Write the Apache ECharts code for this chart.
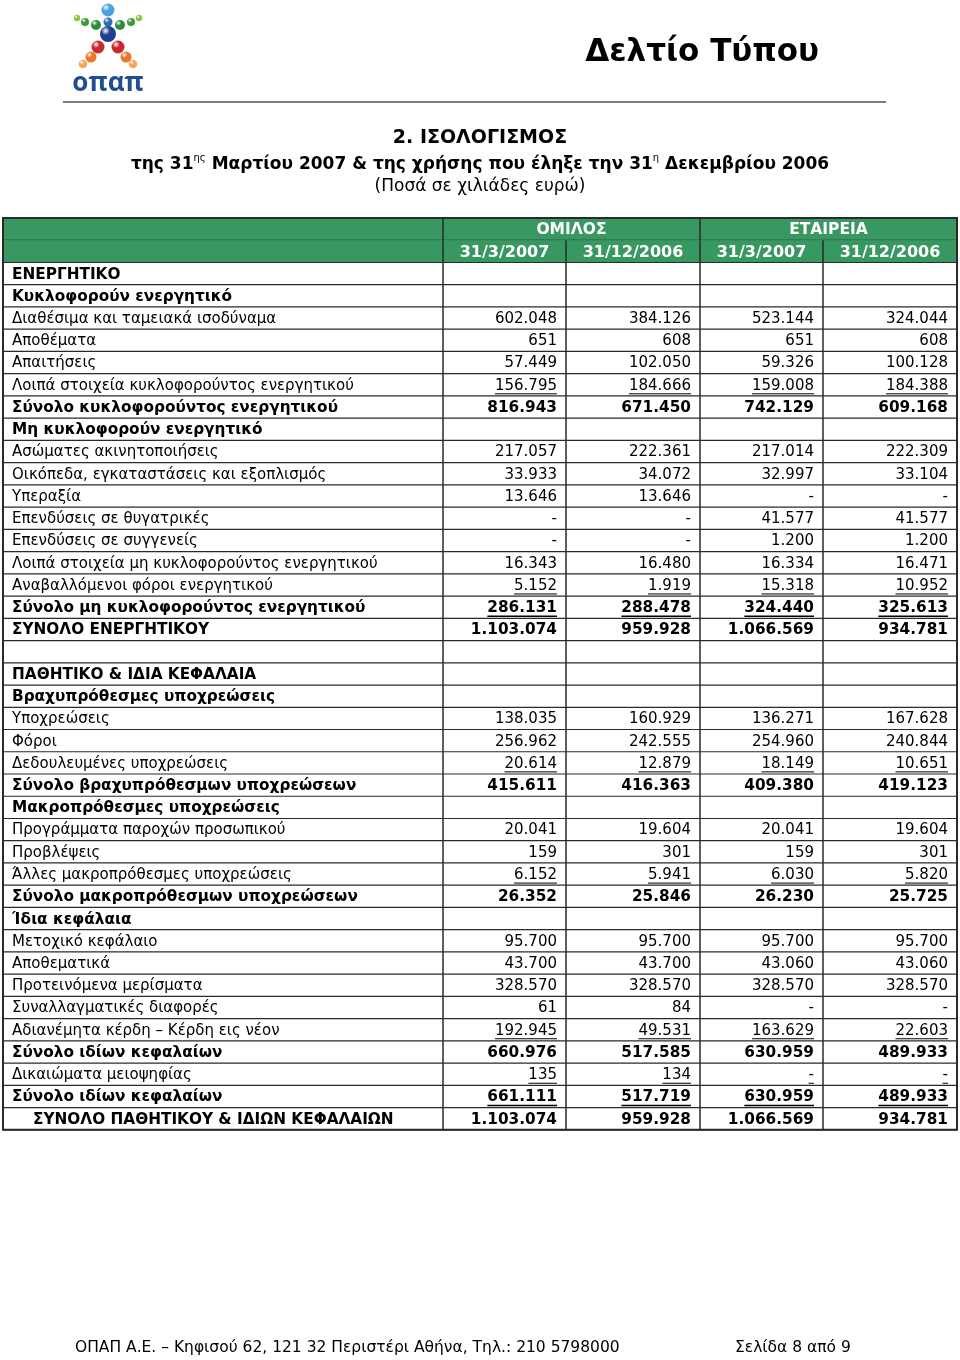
<!DOCTYPE html>
<html>
<head>
<meta charset="utf-8">
<script src="https://cdn.jsdelivr.net/npm/echarts@6/dist/echarts.min.js"></script>
<style>
html,body{margin:0;padding:0;background:#fff;}
#chart{width:960px;height:1360px;}
</style>
</head>
<body>
<div id="chart"></div>
<script>
// ---------- data ----------
const headerGroups = ['ΟΜΙΛΟΣ', 'ΕΤΑΙΡΕΙΑ'];
const headerDates = ['31/3/2007', '31/12/2006', '31/3/2007', '31/12/2006'];

const rowLabels = [
  'ΕΝΕΡΓΗΤΙΚΟ',
  'Κυκλοφορούν ενεργητικό',
  'Διαθέσιμα και ταμειακά ισοδύναμα',
  'Αποθέματα',
  'Απαιτήσεις',
  'Λοιπά στοιχεία κυκλοφορούντος ενεργητικού',
  'Σύνολο κυκλοφορούντος ενεργητικού',
  'Μη κυκλοφορούν ενεργητικό',
  'Ασώματες ακινητοποιήσεις',
  'Οικόπεδα, εγκαταστάσεις και εξοπλισμός',
  'Υπεραξία',
  'Επενδύσεις σε θυγατρικές',
  'Επενδύσεις σε συγγενείς',
  'Λοιπά στοιχεία μη κυκλοφορούντος ενεργητικού',
  'Αναβαλλόμενοι φόροι ενεργητικού',
  'Σύνολο μη κυκλοφορούντος ενεργητικού',
  'ΣΥΝΟΛΟ ΕΝΕΡΓΗΤΙΚΟΥ',
  '',
  'ΠΑΘΗΤΙΚΟ & ΙΔΙΑ ΚΕΦΑΛΑΙΑ',
  'Βραχυπρόθεσμες υποχρεώσεις',
  'Υποχρεώσεις',
  'Φόροι',
  'Δεδουλευμένες υποχρεώσεις',
  'Σύνολο βραχυπρόθεσμων υποχρεώσεων',
  'Μακροπρόθεσμες υποχρεώσεις',
  'Προγράμματα παροχών προσωπικού',
  'Προβλέψεις',
  'Άλλες μακροπρόθεσμες υποχρεώσεις',
  'Σύνολο μακροπρόθεσμων υποχρεώσεων',
  'Ίδια κεφάλαια',
  'Μετοχικό κεφάλαιο',
  'Αποθεματικά',
  'Προτεινόμενα μερίσματα',
  'Συναλλαγματικές διαφορές',
  'Αδιανέμητα κέρδη – Κέρδη εις νέον',
  'Σύνολο ιδίων κεφαλαίων',
  'Δικαιώματα μειοψηφίας',
  'Σύνολο ιδίων κεφαλαίων',
  'ΣΥΝΟΛΟ ΠΑΘΗΤΙΚΟΥ & ΙΔΙΩΝ ΚΕΦΑΛΑΙΩΝ'
];

// null = empty cell, '-' = dash
const groupMar2007 = [null, null, 602048, 651, 57449, 156795, 816943, null, 217057, 33933, 13646, '-', '-', 16343, 5152, 286131, 1103074, null, null, null, 138035, 256962, 20614, 415611, null, 20041, 159, 6152, 26352, null, 95700, 43700, 328570, 61, 192945, 660976, 135, 661111, 1103074];
const groupDec2006 = [null, null, 384126, 608, 102050, 184666, 671450, null, 222361, 34072, 13646, '-', '-', 16480, 1919, 288478, 959928, null, null, null, 160929, 242555, 12879, 416363, null, 19604, 301, 5941, 25846, null, 95700, 43700, 328570, 84, 49531, 517585, 134, 517719, 959928];
const companyMar2007 = [null, null, 523144, 651, 59326, 159008, 742129, null, 217014, 32997, '-', 41577, 1200, 16334, 15318, 324440, 1066569, null, null, null, 136271, 254960, 18149, 409380, null, 20041, 159, 6030, 26230, null, 95700, 43060, 328570, '-', 163629, 630959, '-', 630959, 1066569];
const companyDec2006 = [null, null, 324044, 608, 100128, 184388, 609168, null, 222309, 33104, '-', 41577, 1200, 16471, 10952, 325613, 934781, null, null, null, 167628, 240844, 10651, 419123, null, 19604, 301, 5820, 25725, null, 95700, 43060, 328570, '-', 22603, 489933, '-', 489933, 934781];

// row style flags (indices into rowLabels)
const boldRows = [0, 1, 6, 7, 15, 16, 18, 19, 23, 24, 28, 29, 35, 37, 38];
const underlineRows = [5, 14, 15, 22, 27, 34, 36, 37];
const indentRows = [38];

// ---------- layout ----------
const GRID_LEFT = 3, GRID_TOP = 218, TABLE_W = 954, ROW_H = 22.24;
const HEADER_ROWS = 2;
const colEdges = [0, 440, 563, 697, 820, 954];
const GREEN = '#389862';
const LINE = '#2a2a2a';
const FONT = '"DejaVu Sans", Verdana, sans-serif';

const valueCols = [groupMar2007, groupDec2006, companyMar2007, companyDec2006];
const totalRows = HEADER_ROWS + rowLabels.length;
const rowIds = Array.from({length: totalRows}, (_, i) => String(i));

function fmt(v) {
  if (v === null || v === undefined) return '';
  if (typeof v === 'string') return v;
  return String(v).replace(/\B(?=(\d{3})+(?!\d))/g, '.');
}

const measureCtx = document.createElement('canvas').getContext('2d');
function textWidth(text, font) {
  measureCtx.font = font;
  return measureCtx.measureText(text).width;
}

function txt(text, x, y, opts) {
  const size = opts.size || 15;
  const weight = opts.weight || 'normal';
  const align = opts.align || 'left';
  return {
    type: 'text',
    silent: true,
    style: {
      text: text, x: x, y: y,
      fill: opts.color || '#000',
      font: weight + ' ' + size + 'px ' + FONT,
      fontSize: size, fontWeight: weight, fontFamily: FONT,
      textAlign: align, align: align,
      textVerticalAlign: 'middle', verticalAlign: 'middle'
    }
  };
}
function line(x1, y1, x2, y2, w, c) {
  return {type: 'line', silent: true, shape: {x1, y1, x2, y2}, style: {stroke: c || LINE, lineWidth: w || 1}};
}

function renderItem(params, api) {
  const r = api.value(0);
  const center = api.coord([0, r]);
  const h = api.size([0, 1])[1];
  const top = center[1] - h / 2, bot = center[1] + h / 2, cy = center[1];
  const X = v => api.coord([v, r])[0];
  const children = [];
  if (r < HEADER_ROWS) {
    children.push({type: 'rect', silent: true, shape: {x: X(0), y: top, width: X(colEdges[5]) - X(0), height: h}, style: {fill: GREEN}});
    if (r === 0) {
      for (let g = 0; g < 2; g++) {
        const a = X(colEdges[1 + g * 2]), b = X(colEdges[3 + g * 2]);
        children.push(txt(headerGroups[g], (a + b) / 2, cy + 1, {weight: 'bold', size: 15.5, color: '#fff', align: 'center'}));
      }
      [1, 3].forEach(k => children.push(line(X(colEdges[k]), top, X(colEdges[k]), bot, 1.5)));
    } else {
      for (let c = 0; c < 4; c++) {
        const a = X(colEdges[c + 1]), b = X(colEdges[c + 2]);
        children.push(txt(headerDates[c], (a + b) / 2, cy + 1, {weight: 'bold', size: 16, color: '#fff', align: 'center'}));
      }
      [1, 2, 3, 4].forEach(k => children.push(line(X(colEdges[k]), top, X(colEdges[k]), bot, 1.5)));
    }
    children.push(line(X(0), bot, X(colEdges[5]), bot, 1));
  } else {
    const i = r - HEADER_ROWS;
    const bold = boldRows.indexOf(i) >= 0;
    const under = underlineRows.indexOf(i) >= 0;
    const indent = indentRows.indexOf(i) >= 0;
    const weight = bold ? 'bold' : 'normal';
    const size = bold ? 15.3 : 15;
    if (rowLabels[i]) {
      children.push(txt(rowLabels[i], X(indent ? 30 : 9), cy + 1, {weight, size}));
    }
    for (let c = 0; c < 4; c++) {
      const s = fmt(valueCols[c][i]);
      if (!s) continue;
      const right = X(colEdges[c + 2]) - 9;
      children.push(txt(s, right, cy + 1, {weight, size, align: 'right'}));
      if (under) {
        const w = textWidth(s, weight + ' ' + size + 'px ' + FONT);
        children.push(line(right - w, cy + 9, right, cy + 9, bold ? 1.6 : 1, '#000'));
      }
    }
    [1, 2, 3, 4].forEach(k => children.push(line(X(colEdges[k]), top, X(colEdges[k]), bot, 1.5)));
    children.push(line(X(0), bot, X(colEdges[5]), bot, 1.2));
  }
  return {type: 'group', children};
}

// ---------- logo & page decoration ----------
const logoDots = [
  [108, 10, 6.5, '#4aa3df'], [108, 22, 4.5, '#2f6fb8'], [108, 34, 8, '#1d3f8f'],
  [96, 25, 5, '#2e8b3e'], [85, 22, 4, '#3f9a3a'], [77, 18, 3.2, '#8cc63f'],
  [120, 25, 5, '#2e8b3e'], [131, 22, 4, '#3f9a3a'], [139, 18, 3.2, '#8cc63f'],
  [98, 47, 6.5, '#c8282e'], [118, 47, 6.5, '#c8282e'],
  [91, 57, 5.5, '#e8782a'], [126, 57, 5.5, '#e8782a'],
  [83, 64, 4.3, '#f4a65a'], [133, 64, 4.3, '#f4a65a']
];
const graphics = logoDots.map(d => ({
  type: 'circle', shape: {cx: d[0], cy: d[1], r: d[2]},
  style: {fill: new echarts.graphic.RadialGradient(0.35, 0.3, 0.8, [{offset: 0, color: '#ffffff'}, {offset: 0.35, color: d[3]}, {offset: 1, color: d[3]}])}
}));
graphics.push({type: 'text', style: {text: 'οπαπ', x: 108, y: 84, fill: '#1f4f91', font: 'bold 26px "Open Sans", "DejaVu Sans", sans-serif', textAlign: 'center', align: 'center', textVerticalAlign: 'middle', verticalAlign: 'middle'}});
graphics.push({type: 'line', shape: {x1: 63, y1: 102, x2: 886, y2: 102}, style: {stroke: '#555', lineWidth: 1.5}});
graphics.push({type: 'text', style: {text: 'Δελτίο Τύπου', x: 819, y: 53, fill: '#000', font: 'bold 31px "DejaVu Sans", sans-serif', textAlign: 'right', align: 'right', textVerticalAlign: 'middle', verticalAlign: 'middle'}});
graphics.push({type: 'text', style: {text: 'ΟΠΑΠ Α.Ε. – Κηφισού 62, 121 32 Περιστέρι Αθήνα, Τηλ.: 210 5798000', x: 75, y: 1348, fill: '#000', font: '15.5px "DejaVu Sans", sans-serif', textVerticalAlign: 'middle', verticalAlign: 'middle'}});
graphics.push({type: 'text', style: {text: 'Σελίδα 8 από 9', x: 735, y: 1348, fill: '#000', font: '15.5px "DejaVu Sans", sans-serif', textVerticalAlign: 'middle', verticalAlign: 'middle'}});
// outer border of table
graphics.push({type: 'rect', shape: {x: GRID_LEFT, y: GRID_TOP, width: TABLE_W, height: ROW_H * totalRows}, style: {fill: 'none', stroke: LINE, lineWidth: 2}, z: 100});

const chart = echarts.init(document.getElementById('chart'), null, {renderer: 'canvas'});
chart.setOption({
  animation: false,
  title: [
    {text: '2. ΙΣΟΛΟΓΙΣΜΟΣ', left: 'center', top: 124, textStyle: {fontFamily: FONT, fontWeight: 'bold', fontSize: 19, color: '#000'}},
    {text: '{b|της 31}{s|ης}{b| Μαρτίου 2007 & της χρήσης που έληξε την 31}{s|η}{b| Δεκεμβρίου 2006}', left: 'center', top: 148,
      textStyle: {rich: {
        b: {fontFamily: FONT, fontWeight: 'bold', fontSize: 17, color: '#000', lineHeight: 24},
        s: {fontFamily: FONT, fontWeight: 'normal', fontSize: 10, color: '#000', verticalAlign: 'top', lineHeight: 24, padding: [0, 0, 10, 0]}
      }}},
    {text: '(Ποσά σε χιλιάδες ευρώ)', left: 'center', top: 173, textStyle: {fontFamily: FONT, fontWeight: 'normal', fontSize: 17, color: '#000'}}
  ],
  grid: {left: GRID_LEFT, top: GRID_TOP, width: TABLE_W, height: ROW_H * totalRows, containLabel: false},
  xAxis: {type: 'value', min: 0, max: TABLE_W, show: false},
  yAxis: {type: 'category', data: rowIds, inverse: true, show: false},
  graphic: graphics,
  series: [{
    type: 'custom',
    renderItem: renderItem,
    data: rowIds.map(id => [Number(id)]),
    encode: {y: 0},
    clip: false
  }]
});
</script>
</body>
</html>
